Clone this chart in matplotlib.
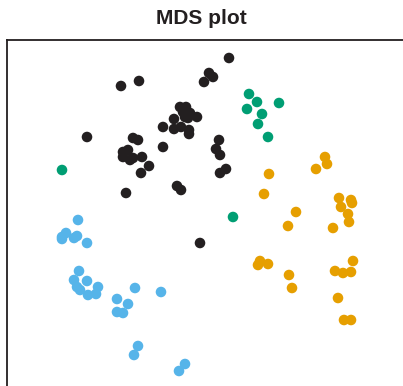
import numpy as np
import matplotlib.pyplot as plt

# MDS koordinater
black_x = [-0.79, -0.61, 0.29, 0.09, 0.13, 0.04, -0.20, -0.14, -0.17, -0.10, -0.12, -0.03, -0.26, -0.15,
           -0.37, -0.26, -0.19, -0.11, -0.11, -1.13, -0.67, -0.62, -0.37, -0.77, -0.72, -0.77, -0.70,
           -0.67, -0.58, -0.51, -0.59, -0.74, -0.23, -0.19, 0.19, 0.16, 0.20, 0.20, 0.26, 0.00]
black_y = [1.14, 1.19, 1.42, 1.27, 1.23, 1.18, 0.93, 0.93, 0.88, 0.87, 0.82, 0.83, 0.81, 0.83,
           0.73, 0.71, 0.73, 0.70, 0.66, 0.63, 0.62, 0.60, 0.53, 0.48, 0.50, 0.43, 0.40,
           0.42, 0.43, 0.34, 0.27, 0.07, 0.14, 0.10, 0.60, 0.51, 0.45, 0.27, 0.31, -0.43]

green_x = [0.49, 0.57, 0.79, 0.47, 0.62, 0.58, 0.68, -1.38, 0.33]
green_y = [1.06, 0.98, 0.97, 0.91, 0.86, 0.76, 0.63, 0.30, -0.17]

orange_x = [1.25, 1.27, 1.16, 0.69, 0.64, 1.39, 1.51, 1.52, 1.41, 1.48, 1.49, 0.96, 0.88, 1.33,
            1.53, 1.35, 1.43, 1.51, 0.60, 0.58, 0.68, 0.89, 0.92, 1.38, 1.44, 1.51]
orange_y = [0.43, 0.36, 0.31, 0.26, 0.06, 0.02, 0.00, -0.03, -0.07, -0.14, -0.22, -0.12, -0.26, -0.28,
            -0.61, -0.71, -0.73, -0.72, -0.61, -0.65, -0.64, -0.75, -0.88, -0.98, -1.20, -1.20]

blue_x = [-1.22, -1.34, -1.38, -1.38, -1.26, -1.23, -1.13, -1.21, -1.26, -1.13, -1.23, -1.20, -1.12,
          -1.04, -1.02, -0.83, -0.72, -0.83, -0.77, -0.65, -0.39, -0.62, -0.66, -0.15, -0.21]
blue_y = [-0.20, -0.33, -0.37, -0.39, -0.38, -0.36, -0.43, -0.71, -0.80, -0.81, -0.87, -0.90, -0.95,
          -0.94, -0.87, -0.99, -1.04, -1.12, -1.13, -0.88, -0.92, -1.46, -1.55, -1.64, -1.71]

W, H = 403, 386
fig = plt.figure(figsize=(W / 100, H / 100), dpi=100)
ax = fig.add_axes([7 / W, -14 / H, 1.02, (H - 40 + 14) / H])

ax.scatter(black_x, black_y, s=58, color='#231F20', edgecolors='none')
ax.scatter(green_x, green_y, s=58, color='#009E73', edgecolors='none')
ax.scatter(orange_x, orange_y, s=58, color='#E69F00', edgecolors='none')
ax.scatter(blue_x, blue_y, s=58, color='#56B4E9', edgecolors='none')

# axelgränser så att 1 enhet = 100 px
ax.set_xlim((7 - 200) / 100, (7 + 1.02 * W - 200) / 100)
ax.set_ylim((200 - 400) / 100, (200 - 40) / 100)
ax.set_xticks([])
ax.set_yticks([])
for sp in ax.spines.values():
    sp.set_linewidth(1.3)
    sp.set_color('#231F20')

fig.text(0.5, 1 - 18 / H, 'MDS plot', ha='center', va='center',
         fontsize=15, fontweight='bold', family=['Liberation Sans', 'DejaVu Sans'], color='#231F20')

fig.savefig('out.png', dpi=100)
